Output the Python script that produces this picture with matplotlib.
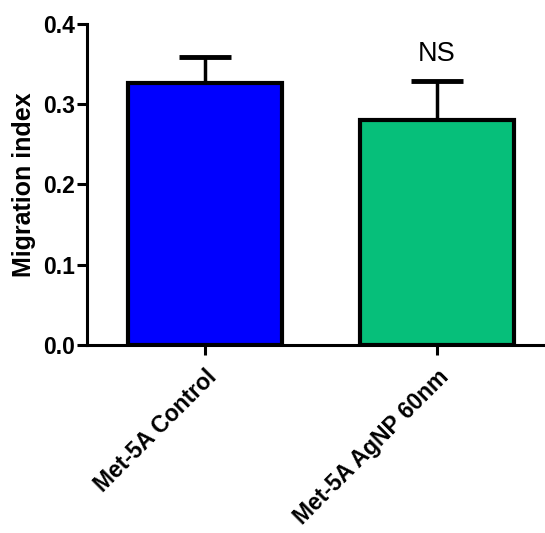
import matplotlib
matplotlib.use("Agg")
import matplotlib.pyplot as plt

groups = ["Met-5A Control", "Met-5A AgNP 60nm"]
means = [0.327, 0.280]
errs = [0.032, 0.049]
colors = ["#0000FF", "#06BF7A"]
yticks = [0.0, 0.1, 0.2, 0.3, 0.4]

plt.rcParams["font.family"] = ["Liberation Sans", "DejaVu Sans"]

fig = plt.figure(figsize=(5.45, 5.33), dpi=100)
ax = fig.add_axes([0.160, 0.3527, 0.836, 0.6023])

x = list(range(len(groups)))
ax.bar(x, means, width=0.664, color=colors, edgecolor="black", linewidth=3, zorder=2)
ax.errorbar(x, means, yerr=[[0] * len(errs), errs], fmt="none", ecolor="black",
            elinewidth=2.5, capsize=19, capthick=3.5, zorder=1)

ax.text(1, means[1] + errs[1] + 0.017, "NS", ha="center", va="bottom", fontsize=19.5)

ax.set_xlim(-0.509, 1.457)
ax.set_ylim(0, 0.4)
ax.set_yticks(yticks)
ax.set_yticklabels(["%.1f" % v for v in yticks], fontsize=16.5, fontweight="bold")
ax.set_xticks(x)
ax.set_xticklabels(groups, rotation=45, ha="right", rotation_mode="anchor",
                   fontsize=16.5, fontweight="bold")
ax.set_ylabel("Migration index", fontsize=18, fontweight="bold", labelpad=5)

for s in ["top", "right"]:
    ax.spines[s].set_visible(False)
for s in ["left", "bottom"]:
    ax.spines[s].set_linewidth(2.2)
ax.tick_params(width=2.2, length=7, pad=2)
ax.tick_params(axis="x", pad=8)

fig.savefig("out.png", dpi=100)
